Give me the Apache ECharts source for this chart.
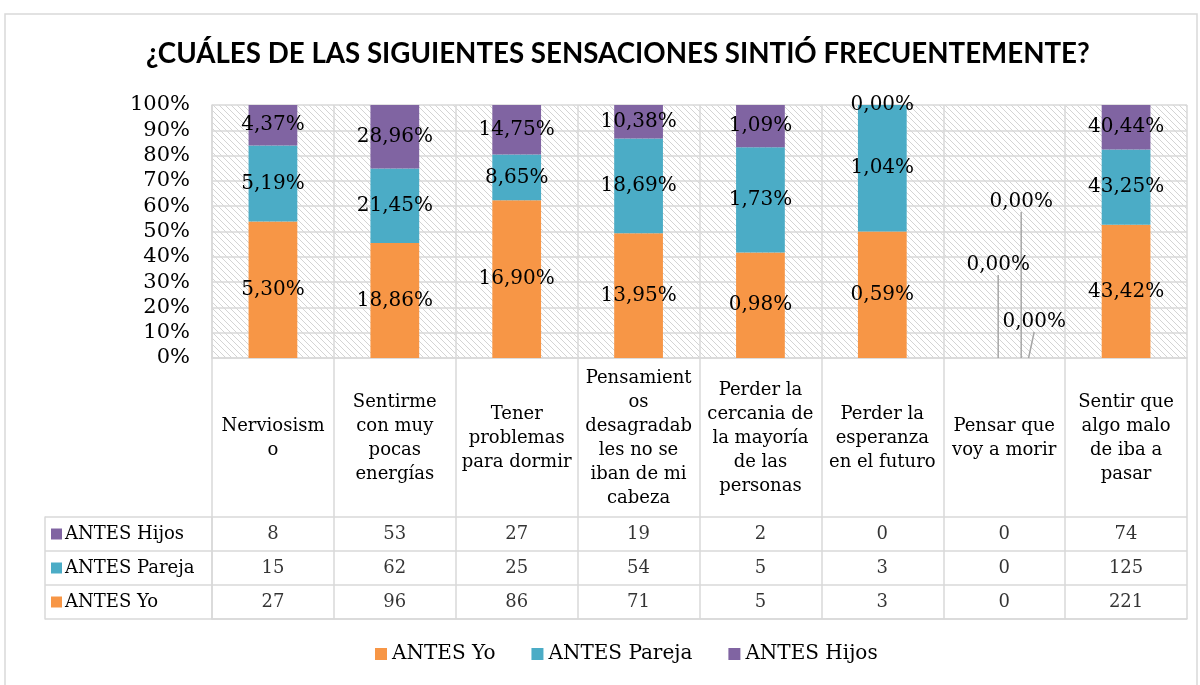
<!DOCTYPE html>
<html>
<head>
<meta charset="utf-8">
<script src="https://cdn.jsdelivr.net/npm/echarts@6/dist/echarts.min.js"></script>
<style>
  html, body { margin: 0; padding: 0; background: #fff; }
  #chart { width: 1200px; height: 685px; }
</style>
</head>
<body>
<div id="chart"></div>
<script>
// datos
var categories = ['Nerviosismo', 'Sentirme con muy pocas energías', 'Tener problemas para dormir',
  'Pensamientos desagradables no se iban de mi cabeza', 'Perder la cercania de la mayoría de las personas',
  'Perder la esperanza en el futuro', 'Pensar que voy a morir', 'Sentir que algo malo de iba a pasar'];
// etiquetas de la tabla, cortadas como en el original
var headerLabels = ['Nerviosism\no', 'Sentirme\ncon muy\npocas\nenergías', 'Tener\nproblemas\npara dormir',
  'Pensamient\nos\ndesagradab\nles no se\niban de mi\ncabeza', 'Perder la\ncercania de\nla mayoría\nde las\npersonas',
  'Perder la\nesperanza\nen el futuro', 'Pensar que\nvoy a morir', 'Sentir que\nalgo malo\nde iba a\npasar'];
var yo = [27, 96, 86, 71, 5, 3, 0, 221];
var pareja = [15, 62, 25, 54, 5, 3, 0, 125];
var hijos = [8, 53, 27, 19, 2, 0, 0, 74];
var seriesNames = ['ANTES Yo', 'ANTES Pareja', 'ANTES Hijos'];
var yTicks = [0, 10, 20, 30, 40, 50, 60, 70, 80, 90, 100];

var colors = ['#F79646', '#4BACC6', '#8064A2'];
var serif = 'DejaVu Serif';
var gridColor = '#d9d9d9';

var raw = [yo, pareja, hijos];
var catTotals = categories.map(function (c, i) { return yo[i] + pareja[i] + hijos[i]; });
var serTotals = raw.map(function (arr) { return arr.reduce(function (a, b) { return a + b; }, 0); });
var pct = raw.map(function (arr) {
  return arr.map(function (v, i) { return catTotals[i] ? v / catTotals[i] * 100 : 0; });
});

// fondo rayado del área de trazado
var hatch = document.createElement('canvas');
hatch.width = 6; hatch.height = 6;
var ctx = hatch.getContext('2d');
ctx.strokeStyle = '#d4d4d4';
ctx.lineWidth = 1;
ctx.beginPath();
[-6, 0, 6].forEach(function (x0) { ctx.moveTo(x0, 0); ctx.lineTo(x0 + 6, 6); });
ctx.stroke();

// etiquetas de los ceros que se movieron a mano
var zeroMoves = [{ dx: 30, dy: -36 }, { dx: -6, dy: -93 }, { dx: 17, dy: -156 }];

var myChart = echarts.init(document.getElementById('chart'));

var barSeries = seriesNames.map(function (name, s) {
  return {
    name: name,
    type: 'bar',
    stack: 'total',
    xAxisIndex: 0,
    yAxisIndex: 0,
    barWidth: '40%',
    itemStyle: { color: colors[s] },
    label: {
      show: true,
      position: 'inside',
      fontFamily: serif,
      fontSize: 20,
      color: '#000',
      formatter: function (p) {
        var v = raw[p.seriesIndex][p.dataIndex] / serTotals[p.seriesIndex] * 100;
        return v.toFixed(2).replace('.', ',') + '%';
      }
    },
    labelLine: { show: true, lineStyle: { color: '#a6a6a6', width: 1.5 } },
    labelLayout: function (p) {
      if (catTotals[p.dataIndex] === 0) {
        return zeroMoves[p.seriesIndex];
      }
      return {};
    },
    data: pct[s]
  };
});

var tableSeries = seriesNames.map(function (name, s) {
  return {
    name: 'tabla' + s,
    type: 'scatter',
    xAxisIndex: 1,
    yAxisIndex: 1,
    symbolSize: 0,
    silent: true,
    label: {
      show: true,
      position: 'inside',
      fontFamily: serif,
      fontSize: 18,
      color: '#000',
      formatter: function (p) { return p.value[2]; }
    },
    data: raw[s].map(function (v, i) { return [i, s, v]; })
  };
});

var option = {
  backgroundColor: '#fff',
  animation: false,
  title: {
    text: '¿CUÁLES DE LAS SIGUIENTES SENSACIONES SINTIÓ FRECUENTEMENTE?',
    left: 141,
    top: 35,
    textStyle: { fontFamily: 'Lato', fontWeight: 'bold', fontSize: 27.7, color: '#000' }
  },
  legend: {
    data: seriesNames,
    bottom: 16,
    left: 370,
    icon: 'rect',
    itemWidth: 12,
    itemHeight: 12,
    itemGap: 36,
    textStyle: { fontFamily: serif, fontSize: 20, color: '#000' }
  },
  graphic: [{
    type: 'rect',
    shape: { x: 5, y: 14, width: 1192, height: 700 },
    style: { fill: 'none', stroke: gridColor, lineWidth: 1.5 },
    silent: true
  }],
  grid: [
    { left: 212, right: 13, top: 105, bottom: 327, show: true, borderWidth: 0,
      backgroundColor: { image: hatch, repeat: 'repeat' }, outerBoundsMode: 'none' },
    { left: 212, right: 13, top: 517, bottom: 66, outerBoundsMode: 'none' }
  ],
  xAxis: [
    {
      type: 'category', gridIndex: 0, data: categories,
      axisLine: { show: true, lineStyle: { color: gridColor, width: 1.5 } },
      axisTick: { show: true, length: 159, interval: 0, lineStyle: { color: gridColor, width: 1.5 } },
      splitLine: { show: true, interval: 0, lineStyle: { color: gridColor, width: 1.5 } },
      axisLabel: {
        interval: 0, margin: 80, verticalAlign: 'middle', lineHeight: 24,
        fontFamily: serif, fontSize: 18, color: '#000',
        formatter: function (v, i) { return headerLabels[i]; }
      }
    },
    {
      type: 'category', gridIndex: 1, data: categories,
      axisLine: { show: true, lineStyle: { color: gridColor, width: 1.5 } },
      axisTick: { show: false },
      axisLabel: { show: false },
      splitLine: { show: true, interval: 0, lineStyle: { color: gridColor, width: 1.5 } }
    }
  ],
  yAxis: [
    {
      type: 'value', gridIndex: 0, min: 0, max: 100, interval: 10,
      axisLine: { show: true, lineStyle: { color: gridColor, width: 1.5 } },
      axisTick: { show: false },
      splitLine: { show: true, lineStyle: { color: gridColor, width: 1.5 } },
      axisLabel: {
        margin: 22, fontFamily: serif, fontSize: 21, color: '#000',
        formatter: function (v) { return yTicks.indexOf(v) >= 0 ? v + '%' : ''; }
      }
    },
    {
      type: 'category', gridIndex: 1, data: seriesNames,
      axisLine: { show: true, lineStyle: { color: gridColor, width: 1.5 } },
      axisTick: { show: true, length: 167, interval: 0, lineStyle: { color: gridColor, width: 1.5 } },
      splitLine: { show: true, interval: 0, lineStyle: { color: gridColor, width: 1.5 } },
      axisLabel: {
        align: 'left', margin: 161,
        formatter: function (v, i) { return '{s' + i + '|}{t|' + v + '}'; },
        rich: {
          s0: { width: 11, height: 11, backgroundColor: colors[0] },
          s1: { width: 11, height: 11, backgroundColor: colors[1] },
          s2: { width: 11, height: 11, backgroundColor: colors[2] },
          t: { fontFamily: serif, fontSize: 18, color: '#000', padding: [0, 0, 0, 3] }
        }
      }
    },
    {
      type: 'category', gridIndex: 1, data: seriesNames, position: 'left', offset: 167,
      axisLine: { show: true, lineStyle: { color: gridColor, width: 1.5 } },
      axisTick: { show: false },
      axisLabel: { show: false },
      splitLine: { show: false }
    }
  ],
  series: barSeries.concat(tableSeries)
};

myChart.setOption(option);
window.addEventListener('resize', function () {
  myChart.resize();
});
</script>
</body>
</html>
